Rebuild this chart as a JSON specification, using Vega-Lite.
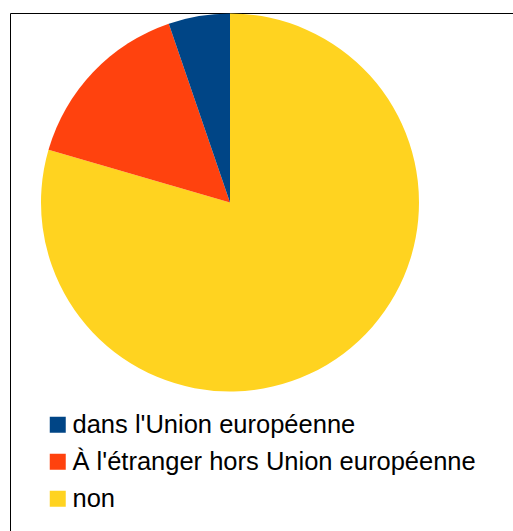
{
  "$schema": "https://vega.github.io/schema/vega-lite/v6.json",
  "width": 506,
  "height": 520,
  "autosize": {"type": "none"},
  "padding": {"left": 10, "top": 13, "right": 0, "bottom": 0},
  "background": "white",
  "view": {"stroke": "black", "strokeWidth": 1, "fill": "white"},
  "config": {
    "font": "Liberation Sans"
  },
  "data": {
    "values": [
      {"categorie": "non", "part": 79.5, "rang": 1},
      {"categorie": "À l'étranger hors Union européenne", "part": 15.25, "rang": 2},
      {"categorie": "dans l'Union européenne", "part": 5.25, "rang": 3}
    ]
  },
  "mark": {"type": "arc", "outerRadius": 189, "x": 220, "y": 189.5},
  "encoding": {
    "theta": {"field": "part", "type": "quantitative", "stack": true},
    "order": {"field": "rang", "type": "quantitative"},
    "color": {
      "field": "categorie",
      "type": "nominal",
      "scale": {
        "domain": ["dans l'Union européenne", "À l'étranger hors Union européenne", "non"],
        "range": ["#004586", "#ff420e", "#ffd320"]
      },
      "legend": {
        "title": null,
        "orient": "none",
        "legendX": 35,
        "legendY": 399,
        "symbolType": "square",
        "symbolSize": 256,
        "symbolStrokeWidth": 0,
        "labelFontSize": 25.5,
        "labelFont": "Liberation Sans",
        "labelColor": "black",
        "labelOffset": 2,
        "rowPadding": 10,
        "labelLimit": 500
      }
    }
  }
}
